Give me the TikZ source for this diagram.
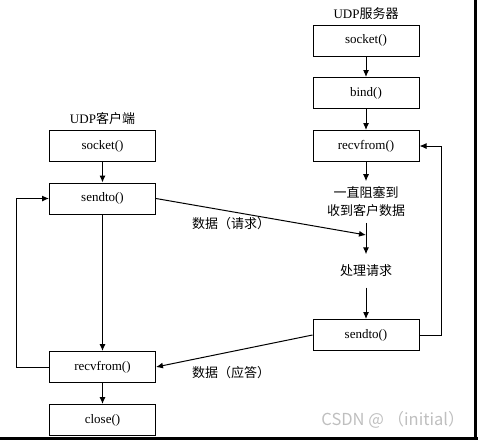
\documentclass[tikz,border=0pt]{standalone}
\usepackage{fontspec}
\setmainfont{Liberation Serif}
\newfontfamily\cjk{Noto Sans CJK SC}
\usetikzlibrary{arrows.meta}
\tikzset{
    box/.style={draw, line width=1pt, minimum width=106pt, minimum height=31pt, inner sep=0pt},
    txt/.style={inner sep=0pt},
    cjktxt/.style={font=\fontsize{13}{18}\selectfont\cjk, align=center, inner sep=0pt},
    flow/.style={-{Latex[length=7pt,width=6pt]}, line width=1pt},
    wmark/.style={font=\fontsize{16.5}{18}\selectfont\cjk, text=gray!50, inner sep=0pt}
}
\begin{document}
\begin{tikzpicture}[x=1pt, y=-1pt, font=\fontsize{13}{18}\selectfont]
        \useasboundingbox (0,0) rectangle (478,440);
        % Rahmen
        \draw[line width=3pt] (475.5,0) -- (475.5,440);
        \draw[line width=3pt] (0,438) -- (478,438);
        % UDP-Server
        \node[txt] (srvtitle) at (366,14) {UDP{\cjk 服务器}};
        \node[box] (ssock) at (366,40.5) {socket()};
        \node[box] (sbind) at (366,93) {bind()};
        \node[box] (srecv) at (366,146) {recvfrom()};
        \node[cjktxt, inner ysep=5.5pt] (swait) at (366,202) {一直阻塞到\\收到客户数据};
        \node[cjktxt, inner ysep=10.5pt] (sproc) at (366,271) {处理请求};
        \node[box] (ssend) at (366,335) {sendto()};
        \coordinate (sreq) at (366,235);
        \draw[flow] (ssock) -- (sbind);
        \draw[flow] (sbind) -- (srecv);
        \draw[flow] (srecv) -- (swait);
        \draw[flow] (swait) -- (sproc);
        \draw[flow] (sproc) -- (ssend);
        \draw[flow] (ssend.east) -- ++(22,0) |- (srecv.east);
        % UDP-Client
        \node[txt] (clititle) at (102.5,119) {UDP{\cjk 客户端}};
        \node[box] (csock) at (102.5,146) {socket()};
        \node[box] (csend) at (102.5,198.5) {sendto()};
        \node[box] (crecv) at (102.5,367) {recvfrom()};
        \node[box] (cclose) at (102.5,420) {close()};
        \draw[flow] (csock) -- (csend);
        \draw[flow] (csend) -- (crecv);
        \draw[flow] (crecv) -- (cclose);
        \draw[flow] (crecv.west) -- ++(-33,0) |- (csend.west);
        % Datenaustausch
        \draw[flow] (csend.east) -- (sreq);
        \node[cjktxt] (reqlbl) at (231,224) {数据（请求）};
        \draw[flow] (ssend.west) -- (crecv.east);
        \node[cjktxt] (anslbl) at (231,373) {数据（应答）};
        \node[wmark] (wm) at (393,420) {CSDN @ （initial）};
    \end{tikzpicture}
\end{document}
